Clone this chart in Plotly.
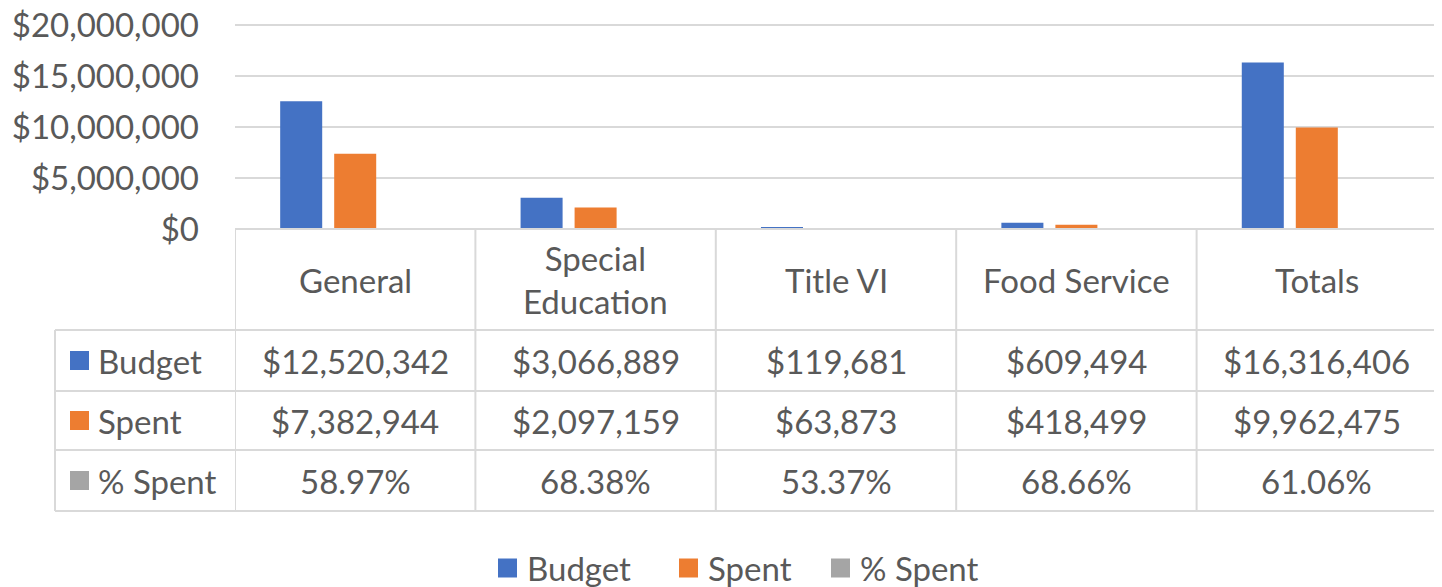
import plotly.graph_objects as go

categories = ["General", "Special Education", "Title VI", "Food Service", "Totals"]
header_labels = ["General", "Special<br>Education", "Title VI", "Food Service", "Totals"]
budget = [12520342, 3066889, 119681, 609494, 16316406]
spent = [7382944, 2097159, 63873, 418499, 9962475]
pct_spent = [0.5897, 0.6838, 0.5337, 0.6866, 0.6106]
series_names = ["Budget", "Spent", "% Spent"]
series_colors = ["#4472C4", "#ED7D31", "#A5A5A5"]
y_ticks = [0, 5000000, 10000000, 15000000, 20000000]
y_tick_labels = ["${:,.0f}".format(v) for v in y_ticks]

W, H = 1442, 587
OFF = 8  # page body margin offset
FONT = "Lato"
FS = 33
TXT = "#595959"
GRID = "#D9D9D9"

# pixel layout (page coordinates)
PX_L, PX_R, PX_T, PX_B = 235, 1437, 24, 229
ROW_LINES = [229, 330, 391, 450, 511]
TABLE_LEFT = 55
LEGEND_Y = 568
LEGEND_KEYS_X = [498, 679, 831]

def fx(px):
    return (px - OFF) / W

def fy(py):
    return 1 - (py - OFF) / H

fig = go.Figure()
values = [budget, spent, pct_spent]
for name, col, vals in zip(series_names, series_colors, values):
    fig.add_trace(go.Bar(x=categories, y=vals, name=name, marker_color=col,
                         marker_line_width=0, hoverinfo="skip", showlegend=False))

shapes = []
ann = []
line = dict(color=GRID, width=2)
# horizontal table lines
shapes.append(dict(type="line", xref="paper", yref="paper", x0=fx(PX_L), x1=fx(PX_R),
                   y0=fy(ROW_LINES[0]), y1=fy(ROW_LINES[0]), line=line))
for r in ROW_LINES[1:]:
    shapes.append(dict(type="line", xref="paper", yref="paper", x0=fx(TABLE_LEFT), x1=fx(PX_R),
                       y0=fy(r), y1=fy(r), line=line))
# vertical lines at category boundaries
n = len(categories)
for i in range(n + 1):
    shapes.append(dict(type="line", xref="x", yref="paper", x0=i - 0.5, x1=i - 0.5,
                       y0=fy(ROW_LINES[0]), y1=fy(ROW_LINES[-1]), line=line))
shapes.append(dict(type="line", xref="paper", yref="paper", x0=fx(TABLE_LEFT), x1=fx(TABLE_LEFT),
                   y0=fy(ROW_LINES[1]), y1=fy(ROW_LINES[-1]), line=line))

font = dict(family=FONT, size=FS, color=TXT)
# header row
for i, lab in enumerate(header_labels):
    ann.append(dict(x=i, xref="x", y=fy((ROW_LINES[0] + ROW_LINES[1]) / 2), yref="paper",
                    text=lab, showarrow=False, font=font, xanchor="center", yanchor="middle"))

def money(v):
    return "${:,.0f}".format(v)

row_texts = [[money(v) for v in budget], [money(v) for v in spent],
             ["{:.2f}%".format(v * 100) for v in pct_spent]]
KEY = 19
for r in range(3):
    ycp = (ROW_LINES[r + 1] + ROW_LINES[r + 2]) / 2
    yc = fy(ycp)
    # legend key in table
    shapes.append(dict(type="rect", xref="paper", yref="paper", x0=fx(70), x1=fx(70 + KEY),
                       y0=fy(ycp + KEY / 2), y1=fy(ycp - KEY / 2),
                       fillcolor=series_colors[r], line_width=0))
    ann.append(dict(x=fx(96), xref="paper", y=yc, yref="paper", text=series_names[r],
                    showarrow=False, font=font, xanchor="left", yanchor="middle"))
    for i, t in enumerate(row_texts[r]):
        ann.append(dict(x=i, xref="x", y=yc, yref="paper", text=t, showarrow=False,
                        font=font, xanchor="center", yanchor="middle"))

# bottom legend
for name, col, kx in zip(series_names, series_colors, LEGEND_KEYS_X):
    shapes.append(dict(type="rect", xref="paper", yref="paper", x0=fx(kx), x1=fx(kx + KEY),
                       y0=fy(LEGEND_Y + KEY / 2), y1=fy(LEGEND_Y - KEY / 2),
                       fillcolor=col, line_width=0))
    ann.append(dict(x=fx(kx + KEY + 8), xref="paper", y=fy(LEGEND_Y), yref="paper", text=name,
                    showarrow=False, font=font, xanchor="left", yanchor="middle"))

fig.update_layout(
    width=W, height=H,
    margin=dict(l=0, r=0, t=0, b=0, autoexpand=False),
    paper_bgcolor="white", plot_bgcolor="white",
    barmode="group", bargap=0.326, bargroupgap=0.222,
    font=font,
    xaxis=dict(domain=[fx(PX_L), fx(PX_R)], showticklabels=False, showgrid=False,
               zeroline=False, showline=False, range=[-0.5, n - 0.5], automargin=False),
    yaxis=dict(domain=[fy(PX_B), fy(PX_T)], range=[0, 20100000], tickmode="array",
               tickvals=y_ticks, ticktext=y_tick_labels,
               showgrid=True, gridcolor=GRID, gridwidth=2,
               zeroline=False, showline=False, ticks="", ticklabelstandoff=35,
               ticklabeloverflow="allow", tickfont=font, automargin=False),
    showlegend=False,
    shapes=shapes, annotations=ann,
)

fig.write_html("out.html")
